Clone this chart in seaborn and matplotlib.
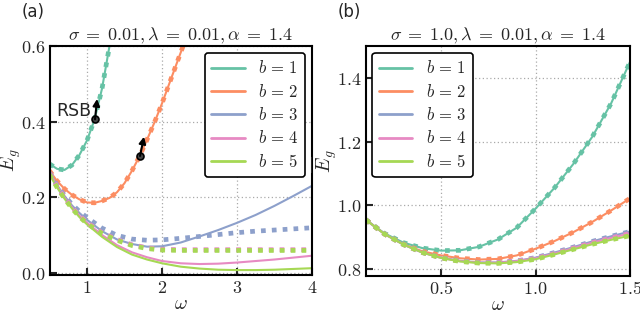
import matplotlib
matplotlib.use("Agg")
import matplotlib.pyplot as plt
import seaborn as sns
from matplotlib.ticker import FixedLocator, FuncFormatter

# ---------------- data ----------------
labels = [r"$b\,=\,1$", r"$b\,=\,2$", r"$b\,=\,3$", r"$b\,=\,4$", r"$b\,=\,5$"]
colors = sns.color_palette("Set2", 5)

# panel (a): sigma = 0.01
wa1 = [0.5, 0.6, 0.7, 0.8, 0.9, 1.0, 1.1, 1.2, 1.3, 1.4]
ea1 = [0.288, 0.275, 0.272, 0.285, 0.312, 0.35, 0.405, 0.487, 0.6, 0.735]

wa2 = [0.5, 0.6, 0.7, 0.8, 0.9, 1.0, 1.1, 1.2, 1.3, 1.4, 1.5, 1.6, 1.7, 1.8, 1.9,
       2.0, 2.1, 2.2, 2.3, 2.4]
ea2 = [0.27, 0.243, 0.222, 0.206, 0.194, 0.186, 0.185, 0.19, 0.198, 0.213, 0.237,
       0.27, 0.308, 0.352, 0.398, 0.448, 0.502, 0.556, 0.61, 0.665]

wa_rest = [0.5, 0.6, 0.7, 0.8, 0.9, 1.0, 1.2, 1.4, 1.6, 1.8, 2.0, 2.25, 2.5, 2.75,
           3.0, 3.25, 3.5, 3.75, 4.0]
ea3 = [0.265, 0.232, 0.203, 0.178, 0.158, 0.14, 0.11, 0.088, 0.076, 0.069, 0.07,
       0.08, 0.096, 0.113, 0.132, 0.153, 0.177, 0.203, 0.23]
ea4 = [0.263, 0.229, 0.199, 0.173, 0.151, 0.132, 0.1, 0.073, 0.054, 0.041, 0.031,
       0.025, 0.023, 0.024, 0.027, 0.031, 0.035, 0.04, 0.045]
ea5 = [0.26, 0.226, 0.196, 0.17, 0.147, 0.128, 0.095, 0.068, 0.048, 0.035, 0.025,
       0.016, 0.011, 0.008, 0.007, 0.007, 0.008, 0.01, 0.012]
# dotted (alternative solution) curves for b = 3, 4, 5
ea3_dot = [0.265, 0.232, 0.204, 0.181, 0.162, 0.146, 0.118, 0.099, 0.089, 0.086,
           0.087, 0.091, 0.096, 0.101, 0.106, 0.11, 0.113, 0.116, 0.119]
ea4_dot = [0.263, 0.229, 0.199, 0.173, 0.151, 0.133, 0.106, 0.088, 0.074, 0.066,
           0.062, 0.061, 0.061, 0.061, 0.061, 0.061, 0.061, 0.061, 0.061]
ea5_dot = [0.26, 0.226, 0.196, 0.17, 0.148, 0.13, 0.104, 0.086, 0.072, 0.064,
           0.06, 0.059, 0.059, 0.059, 0.059, 0.059, 0.059, 0.059, 0.059]

# RSB arrows (tail, head)
rsb1 = [(1.107, 0.406), (1.135, 0.46)]
rsb2 = [(1.707, 0.309), (1.76, 0.36)]

# panel (b): sigma = 1.0
wb = [0.1, 0.2, 0.3, 0.4, 0.5, 0.6, 0.7, 0.8, 0.9, 1.0, 1.1, 1.2, 1.3, 1.4, 1.5]
eb1 = [0.955, 0.912, 0.883, 0.866, 0.858, 0.859, 0.87, 0.893, 0.93, 0.99, 1.055,
       1.13, 1.215, 1.32, 1.45]
eb2 = [0.955, 0.91, 0.878, 0.856, 0.843, 0.834, 0.83, 0.832, 0.843, 0.864, 0.888,
       0.916, 0.948, 0.984, 1.022]
eb3 = [0.955, 0.91, 0.877, 0.852, 0.836, 0.826, 0.821, 0.821, 0.826, 0.836, 0.852,
       0.869, 0.887, 0.903, 0.918]
eb4 = [0.955, 0.91, 0.877, 0.852, 0.835, 0.825, 0.82, 0.82, 0.825, 0.834, 0.849,
       0.866, 0.883, 0.898, 0.912]
eb5 = [0.955, 0.91, 0.877, 0.852, 0.835, 0.824, 0.819, 0.818, 0.822, 0.831, 0.846,
       0.862, 0.878, 0.892, 0.905]

# ---------------- style ----------------
sns.set_style("ticks")
plt.rcParams["font.family"] = ["DejaVu Sans"]
plt.rcParams["mathtext.fontset"] = "cm"
plt.rcParams["axes.linewidth"] = 1.5

fig = plt.figure(figsize=(6.4, 3.13), dpi=100)
axA = fig.add_axes([49.5 / 640, 1 - 275 / 313, (312 - 49.5) / 640, (275 - 46) / 313])
axB = fig.add_axes([365.7 / 640, 1 - 275.5 / 313, (630 - 365.7) / 640, (275.5 - 46) / 313])

SOLID_LW = 1.5
DOT_LW = 3.4


def solid(ax, x, y, c, lab=None):
    sns.lineplot(x=x, y=y, color=c, lw=SOLID_LW, ax=ax, label=lab, sort=False)


def dotted(ax, x, y, c):
    sns.lineplot(x=x, y=y, color=c, lw=DOT_LW, ls=(0, (1, 1.3)), ax=ax, sort=False)


# panel (a)
solid(axA, wa1, ea1, colors[0], labels[0])
dotted(axA, wa1, ea1, colors[0])
solid(axA, wa2, ea2, colors[1], labels[1])
dotted(axA, wa2, ea2, colors[1])
solid(axA, wa_rest, ea3, colors[2], labels[2])
solid(axA, wa_rest, ea4, colors[3], labels[3])
solid(axA, wa_rest, ea5, colors[4], labels[4])
dotted(axA, wa_rest, ea3_dot, colors[2])
dotted(axA, wa_rest, ea4_dot, colors[3])
dotted(axA, wa_rest, ea5_dot, colors[4])

for (t, h) in (rsb1, rsb2):
    axA.annotate("", xy=h, xytext=t,
                 arrowprops=dict(arrowstyle="-|>", color="black", lw=1.5,
                                 mutation_scale=10, shrinkA=0, shrinkB=0))
    axA.plot([t[0]], [t[1]], "o", color="black", ms=5, mfc="#444444", mec="black", mew=1.2)
axA.text(1.06, 0.428, "RSB", ha="right", va="center", fontsize=12.5)

# panel (b)
for ys, c, lab in zip([eb1, eb2, eb3, eb4, eb5], colors, labels):
    solid(axB, wb, ys, c, lab)
    dotted(axB, wb, ys, c)

for ax in (axA, axB):
    ax.grid(True, ls=(0, (1, 2)), color="#aaaaaa", lw=0.9)
    ax.tick_params(direction="in", length=5, width=1.5, labelsize=13, pad=3)
    for s in ax.spines.values():
        s.set_linewidth(1.5)
        s.set_color("black")
    ax.set_xlabel(r"$\omega$", fontsize=14, labelpad=-2)
    ax.set_ylabel(r"$\overline{E}_g$", fontsize=14, labelpad=-1.5)

axA.set_xlim(0.5, 4)
axA.set_ylim(-0.006, 0.6)
axA.xaxis.set_major_locator(FixedLocator([1, 2, 3, 4]))
axA.xaxis.set_major_formatter(FuncFormatter(lambda v, p: f"${int(round(v))}$"))
axA.yaxis.set_major_locator(FixedLocator([0.0, 0.2, 0.4, 0.6]))
axA.yaxis.set_major_formatter(FuncFormatter(lambda v, p: f"${v:.1f}$"))

axB.set_xlim(0.1, 1.5)
axB.set_ylim(0.78, 1.5)
axB.xaxis.set_major_locator(FixedLocator([0.5, 1.0, 1.5]))
axB.xaxis.set_major_formatter(FuncFormatter(lambda v, p: f"${v:.1f}$"))
axB.yaxis.set_major_locator(FixedLocator([0.8, 1.0, 1.2, 1.4]))
axB.yaxis.set_major_formatter(FuncFormatter(lambda v, p: f"${v:.1f}$"))

axA.set_title(r"$\sigma\;=\;0.01, \lambda\;=\;0.01, \alpha\;=\;1.4$", fontsize=13, pad=4)
axB.set_title(r"$\sigma\;=\;1.0, \lambda\;=\;0.01, \alpha\;=\;1.4$", fontsize=13, pad=4)

for ax, loc in ((axA, "upper right"), (axB, "upper left")):
    leg = ax.legend(loc=loc, fontsize=12, handlelength=2.0, labelspacing=0.32,
                    borderpad=0.4, handletextpad=0.8, borderaxespad=0.4,
                    frameon=True, fancybox=True, framealpha=1, edgecolor="black")
    leg.get_frame().set_linewidth(1.2)
    for l in leg.get_lines():
        l.set_linewidth(2)

fig.text(22 / 640, 1 - 12 / 313, "(a)", fontsize=12, va="center", ha="left")
fig.text(338 / 640, 1 - 12 / 313, "(b)", fontsize=12, va="center", ha="left")

fig.savefig("out.png", dpi=100)
